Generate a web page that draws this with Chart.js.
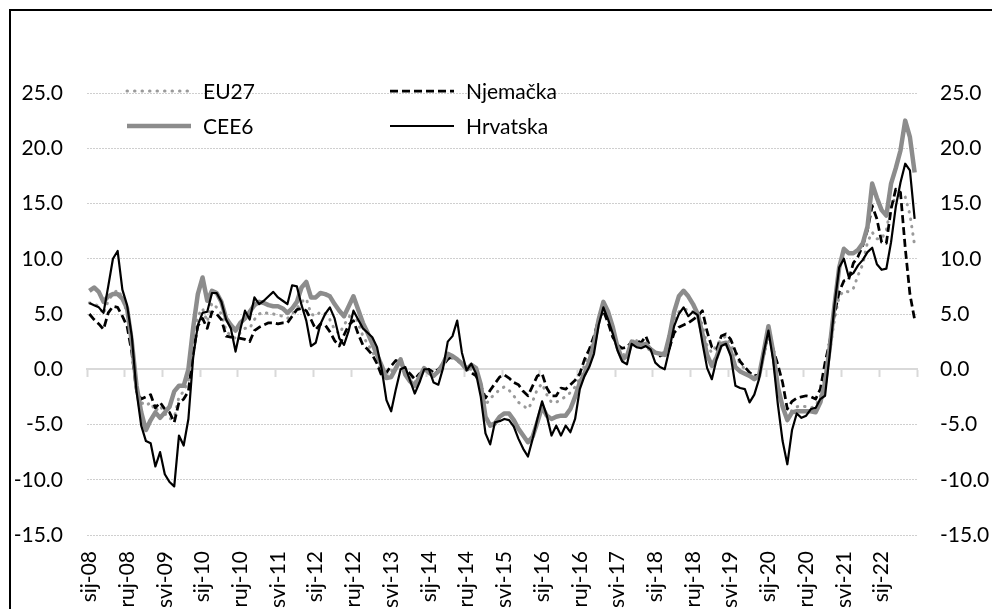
<!DOCTYPE html>
<html>
<head>
<meta charset="utf-8">
<script src="https://cdn.jsdelivr.net/npm/chart.js@4.4.0/dist/chart.umd.min.js"></script>
<style>
	html, body { margin: 0; padding: 0; background: #fff; overflow: hidden; }
	#wrap { position: relative; width: 992px; height: 609px; }
	#frame { position: absolute; left: 9px; top: 9px; width: 1100px; height: 800px; border: 2px solid #000; }
	#chartMain { position: absolute; left: 0; top: 0; }
</style>
</head>
<body>
<div id="wrap">
	<div id="frame"></div>
	<canvas id="chartMain" width="992" height="609"></canvas>
</div>
<script>
// mjesečni podaci, sij-08 .. kol-22
var monthNames = ['sij', 'velj', 'ožu', 'tra', 'svi', 'lip', 'srp', 'kol', 'ruj', 'lis', 'stu', 'pro'];
var startYear = 2008;
var monthCount = 176;
var labelStep = 8;

var yTicks = { min: -15, max: 25, step: 5 };

var seriesNames = ['EU27', 'Njemačka', 'CEE6', 'Hrvatska'];

var eu27 = [
	6.0, 5.9, 5.7, 5.0, 6.2, 6.8, 7.2, 6.5, 5.0, 2.0, -1.8, -3.0,
	-3.3, -3.0, -3.8, -3.3, -4.0, -4.5, -4.4, -2.5, -2.0, -1.0, 2.5, 4.8,
	5.5, 4.3, 6.0, 5.6, 5.0, 3.5, 3.0, 2.8, 3.3, 3.7, 3.7, 4.5,
	5.0, 5.2, 5.0, 5.0, 4.9, 4.8, 4.6, 5.0, 5.5, 6.1, 6.4, 5.0,
	4.8, 5.2, 5.0, 4.5, 3.6, 3.2, 4.0, 4.7, 5.2, 4.2, 3.0, 2.3,
	1.6, 0.8, -0.4, -0.8, -0.2, 0.3, 0.6, -0.2, -0.8, -1.2, -0.5, 0.0,
	0.0, -0.4, -0.2, 0.3, 1.0, 1.0, 0.8, 0.4, 0.0, 0.0, -0.3, -1.4,
	-3.3, -2.6, -2.3, -1.8, -1.6, -1.9, -2.4, -3.0, -3.3, -3.6, -2.9, -1.8,
	-1.3, -2.3, -3.0, -3.0, -2.7, -2.5, -2.1, -1.6, -0.8, 0.4, 1.5, 2.8,
	4.6, 5.8, 4.6, 3.1, 1.8, 1.4, 1.2, 2.3, 2.6, 2.2, 2.0, 1.7,
	1.5, 1.5, 1.5, 2.8, 4.3, 5.2, 5.4, 5.4, 5.2, 5.0, 4.0, 2.1,
	1.5, 2.2, 2.7, 3.0, 2.3, 1.3, 0.5, 0.0, -0.3, -0.6, -0.4, 1.5,
	3.6, 1.0, -1.6, -3.2, -4.5, -3.7, -3.4, -3.3, -3.4, -3.5, -3.3, -2.5,
	-0.5, 1.6, 4.5, 6.6, 7.1, 7.0, 7.3, 8.5, 9.5, 11.5, 12.4, 11.8,
	11.8, 12.6, 14.8, 15.6, 15.8, 15.6, 14.0, 11.2
];

var njemacka = [
	5.0, 4.5, 4.1, 3.6, 5.1, 5.7, 5.6, 4.8, 3.9, 1.5, -2.0, -2.7,
	-2.5, -2.3, -3.5, -3.0, -3.6, -3.9, -4.8, -3.0, -2.7, -2.0, 1.5, 3.9,
	4.6, 3.7, 5.2, 5.0, 4.5, 3.0, 2.9, 2.9, 2.8, 2.7, 2.5, 3.5,
	3.8, 4.0, 4.2, 4.2, 4.1, 4.2, 4.2, 4.8, 5.4, 5.5, 5.3, 4.5,
	3.6, 4.1, 4.0, 3.4, 2.6, 2.1, 3.1, 4.0, 4.4, 3.2, 2.2, 1.8,
	1.3, 0.5, -0.6, -0.3, 0.3, 0.8, 0.6, 0.0, -0.4, -0.9, -0.4, -0.2,
	0.0, -0.3, 0.0, 0.4, 0.9, 1.2, 0.9, 0.6, 0.1, -0.3, -0.6, -1.5,
	-2.6, -1.9, -1.3, -0.7, -0.5, -0.8, -1.2, -1.4, -2.0, -2.4, -1.5, -0.6,
	-0.4, -1.7, -2.4, -2.4, -1.7, -1.8, -1.4, -1.0, -0.4, 0.9, 1.8, 3.0,
	4.5, 5.3, 4.2, 2.9, 2.2, 1.9, 2.0, 2.5, 2.6, 2.4, 3.0, 1.9,
	1.5, 1.2, 1.4, 1.9, 3.3, 3.8, 4.0, 4.2, 4.5, 4.8, 5.3, 3.4,
	2.0, 1.8, 3.0, 3.2, 2.7, 1.6, 0.7, 0.2, -0.3, -0.6, -0.5, 1.3,
	3.3, 1.8, 0.4, -1.2, -3.6, -2.9, -2.6, -2.5, -2.4, -2.5, -2.7, -1.8,
	0.6, 2.5, 5.0, 7.0, 8.0, 8.1, 9.6, 10.2, 11.2, 12.6, 14.8, 13.6,
	11.5, 11.4, 14.5, 16.3, 16.0, 11.0, 6.8, 4.5
];

var cee6 = [
	7.1, 7.4, 7.0, 6.1, 6.6, 6.8, 6.8, 6.4, 5.5, 2.5, -1.5, -3.9,
	-5.5, -4.6, -3.9, -4.4, -3.9, -3.4, -2.0, -1.5, -1.5, 0.0, 3.7, 6.8,
	8.3, 6.2, 7.1, 6.9, 6.1, 4.6, 4.0, 3.5, 4.2, 4.6, 5.2, 5.8,
	6.1, 6.0, 5.8, 5.7, 5.7, 5.5, 5.1, 5.5, 6.1, 7.4, 7.9, 6.5,
	6.5, 6.9, 6.8, 6.6, 5.9, 5.3, 4.8, 5.7, 6.6, 5.4, 4.2, 3.3,
	2.3, 1.3, 0.3, -0.8, -0.7, 0.1, 0.9, -0.5, -1.1, -1.5, -0.7, 0.1,
	-0.3, -0.6, -0.2, 0.5, 1.4, 1.2, 0.9, 0.5, 0.0, 0.4, 0.1, -1.4,
	-4.3, -5.1, -4.9, -4.3, -4.0, -4.0, -4.6, -5.4, -6.0, -6.6, -6.1, -4.8,
	-3.4, -4.2, -4.5, -4.3, -4.2, -4.2, -3.6, -2.5, -1.2, -0.4, 0.7, 2.3,
	4.5, 6.1, 5.2, 3.8, 2.0, 0.9, 1.2, 2.5, 2.3, 2.2, 2.3, 1.8,
	1.5, 1.4, 1.3, 3.0, 5.2, 6.6, 7.1, 6.6, 5.9, 5.0, 3.2, 1.3,
	0.3, 1.1, 2.3, 2.4, 1.6, 0.2, -0.2, -0.4, -0.6, -0.9, -0.6, 1.6,
	3.9, 1.6, -1.6, -3.4, -4.6, -3.9, -3.8, -3.8, -3.8, -3.8, -3.9, -3.0,
	-1.2, 2.0, 5.8, 9.2, 10.9, 10.5, 10.5, 10.8, 11.4, 12.9, 16.8, 15.5,
	14.4, 13.9, 16.8, 18.2, 19.8, 22.5, 21.0, 17.8
];

var hrvatska = [
	6.0, 5.8, 5.6, 5.1, 7.5, 10.0, 10.7, 7.2, 5.8, 3.0, -2.0, -5.1,
	-6.5, -6.7, -8.8, -7.5, -9.5, -10.2, -10.6, -6.0, -6.9, -4.5, 1.0, 4.0,
	5.1, 5.2, 6.9, 6.9, 6.1, 4.5, 3.7, 1.6, 3.6, 5.3, 4.5, 6.5,
	5.9, 6.2, 6.6, 7.0, 6.5, 6.2, 5.9, 7.6, 7.5, 5.8, 4.4, 2.1,
	2.4, 4.1, 5.0, 5.6, 4.6, 2.8, 2.2, 3.5, 5.3, 4.5, 3.7, 3.3,
	2.9, 2.0, 0.0, -2.8, -3.8, -1.8, 0.0, 0.2, -1.0, -2.2, -1.2, 0.0,
	0.0, -1.2, -1.4, 0.1, 2.5, 3.0, 4.4, 1.5, -0.1, 0.5, -0.4, -2.5,
	-5.8, -6.8, -4.8, -4.7, -4.5, -4.6, -5.2, -6.3, -7.2, -7.9, -6.3, -4.5,
	-2.9, -4.2, -6.0, -5.1, -6.0, -5.1, -5.7, -4.5, -1.8, -0.6, 0.2, 1.4,
	4.0, 5.6, 4.5, 3.2, 1.7, 0.7, 0.45, 2.3, 2.0, 1.9, 2.1, 1.8,
	0.6, 0.2, 0.0, 1.8, 3.9, 5.0, 5.6, 4.8, 5.2, 4.9, 2.4, 0.1,
	-0.9, 0.9, 2.1, 2.3, 1.2, -1.5, -1.7, -1.8, -3.0, -2.3, -0.9, 1.5,
	3.5, 0.8, -3.2, -6.5, -8.6, -5.5, -4.0, -4.4, -4.2, -3.6, -3.5, -2.7,
	-2.4, 1.4, 5.8, 9.2, 10.0, 8.4, 8.7, 9.4, 9.9, 10.6, 11.0, 9.5,
	9.0, 9.1, 11.5, 14.7, 16.9, 18.6, 18.0, 13.6
];

var labelFont = { family: "Lato, 'Open Sans', sans-serif", size: 21 };

/***********************************************************************************************
 * kategorije (mjeseci)
 ***********************************************************************************************/
function buildMonthLabels() {
	var list = [];
	for (var i = 0; i < monthCount; i++) {
		var yy = String((startYear + Math.floor(i / 12)) % 100);
		if (yy.length < 2) yy = '0' + yy;
		list.push(monthNames[i % 12] + '-' + yy);
	}
	return list;
}

/***********************************************************************************************
 * legenda unutar grafikona (dva stupca)
 ***********************************************************************************************/
var legendBox = { cols: [127, 390], rows: [91, 126], lineLength: 64, gap: 12 };

var inlineLegend = {
	id: 'inlineLegend',
	afterDraw: function(chart) {
		var ctx = chart.ctx;
		chart.data.datasets.forEach(function(ds, i) {
			var x = legendBox.cols[i % 2];
			var y = legendBox.rows[Math.floor(i / 2)];
			ctx.save();
			ctx.strokeStyle = ds.borderColor;
			ctx.lineWidth = ds.borderWidth;
			ctx.lineCap = ds.borderCapStyle || 'butt';
			ctx.setLineDash(ds.borderDash || []);
			ctx.beginPath();
			ctx.moveTo(x, y);
			ctx.lineTo(x + legendBox.lineLength, y);
			ctx.stroke();
			ctx.setLineDash([]);
			ctx.fillStyle = '#000';
			ctx.font = labelFont.size + 'px ' + labelFont.family;
			ctx.textBaseline = 'middle';
			ctx.fillText(ds.label, x + legendBox.lineLength + legendBox.gap, y + 1);
			ctx.restore();
		});
	}
};

var monthLabels = buildMonthLabels();

var chartMain = new Chart(document.getElementById('chartMain'), {
	type: 'line',
	data: {
		labels: monthLabels,
		datasets: [{
			label: seriesNames[0],
			data: eu27,
			borderColor: '#9a9a9a',
			borderWidth: 3,
			borderDash: [0.5, 7],
			borderCapStyle: 'round',
			order: 3
		}, {
			label: seriesNames[1],
			data: njemacka,
			borderColor: '#000000',
			borderWidth: 2.75,
			borderDash: [8, 4],
			order: 2
		}, {
			label: seriesNames[2],
			data: cee6,
			borderColor: '#8c8c8c',
			borderWidth: 4.5,
			order: 1
		}, {
			label: seriesNames[3],
			data: hrvatska,
			borderColor: '#000000',
			borderWidth: 2.2,
			order: 0
		}]
	},
	options: {
		responsive: false,
		animation: false,
		layout: { padding: { top: 93, left: 0, right: 0, bottom: 0 } },
		elements: {
			point: { radius: 0, hoverRadius: 0 },
			line: { tension: 0, borderJoinStyle: 'round', fill: false }
		},
		plugins: {
			legend: { display: false },
			tooltip: { enabled: false }
		},
		scales: {
			x: {
				type: 'category',
				position: 'bottom',
				offset: true,
				grid: { display: false, drawTicks: false },
				border: { display: false },
				ticks: {
					autoSkip: false,
					minRotation: 90,
					maxRotation: 90,
					padding: 16,
					color: '#000',
					font: labelFont,
					callback: function(value, index) {
						return index % labelStep === 0 ? this.getLabelForValue(value) : '';
					}
				},
				afterFit: function(scale) { scale.height = 74; }
			},
			x0: {
				type: 'category',
				position: { y: 0 },
				offset: true,
				grid: {
					offset: true,
					drawOnChartArea: false,
					drawTicks: true,
					tickLength: 7,
					tickWidth: 2,
					tickColor: function(c) {
						return (c.index === undefined || c.index % labelStep === 0) ? '#d9d9d9' : 'rgba(0,0,0,0)';
					}
				},
				border: { display: true, color: '#d9d9d9', width: 2 },
				ticks: { display: false }
			},
			y: {
				position: 'left',
				min: yTicks.min,
				max: yTicks.max,
				ticks: {
					stepSize: yTicks.step,
					padding: 24,
					color: '#000',
					font: labelFont,
					callback: function(v) { return v.toFixed(1); }
				},
				grid: {
					drawTicks: false,
					lineWidth: 1,
					color: function(c) {
						return (c.tick && c.tick.value === 0) ? 'rgba(0,0,0,0)' : '#cfcfcf';
					}
				},
				border: { display: false, dash: [2, 1] },
				afterFit: function(scale) { scale.width = 87; }
			},
			y2: {
				position: 'right',
				min: yTicks.min,
				max: yTicks.max,
				ticks: {
					stepSize: yTicks.step,
					padding: 23,
					color: '#000',
					font: labelFont,
					callback: function(v) { return v.toFixed(1); }
				},
				grid: { display: false, drawTicks: false },
				border: { display: false },
				afterFit: function(scale) { scale.width = 75; }
			}
		}
	},
	plugins: [inlineLegend]
});
</script>
</body>
</html>
